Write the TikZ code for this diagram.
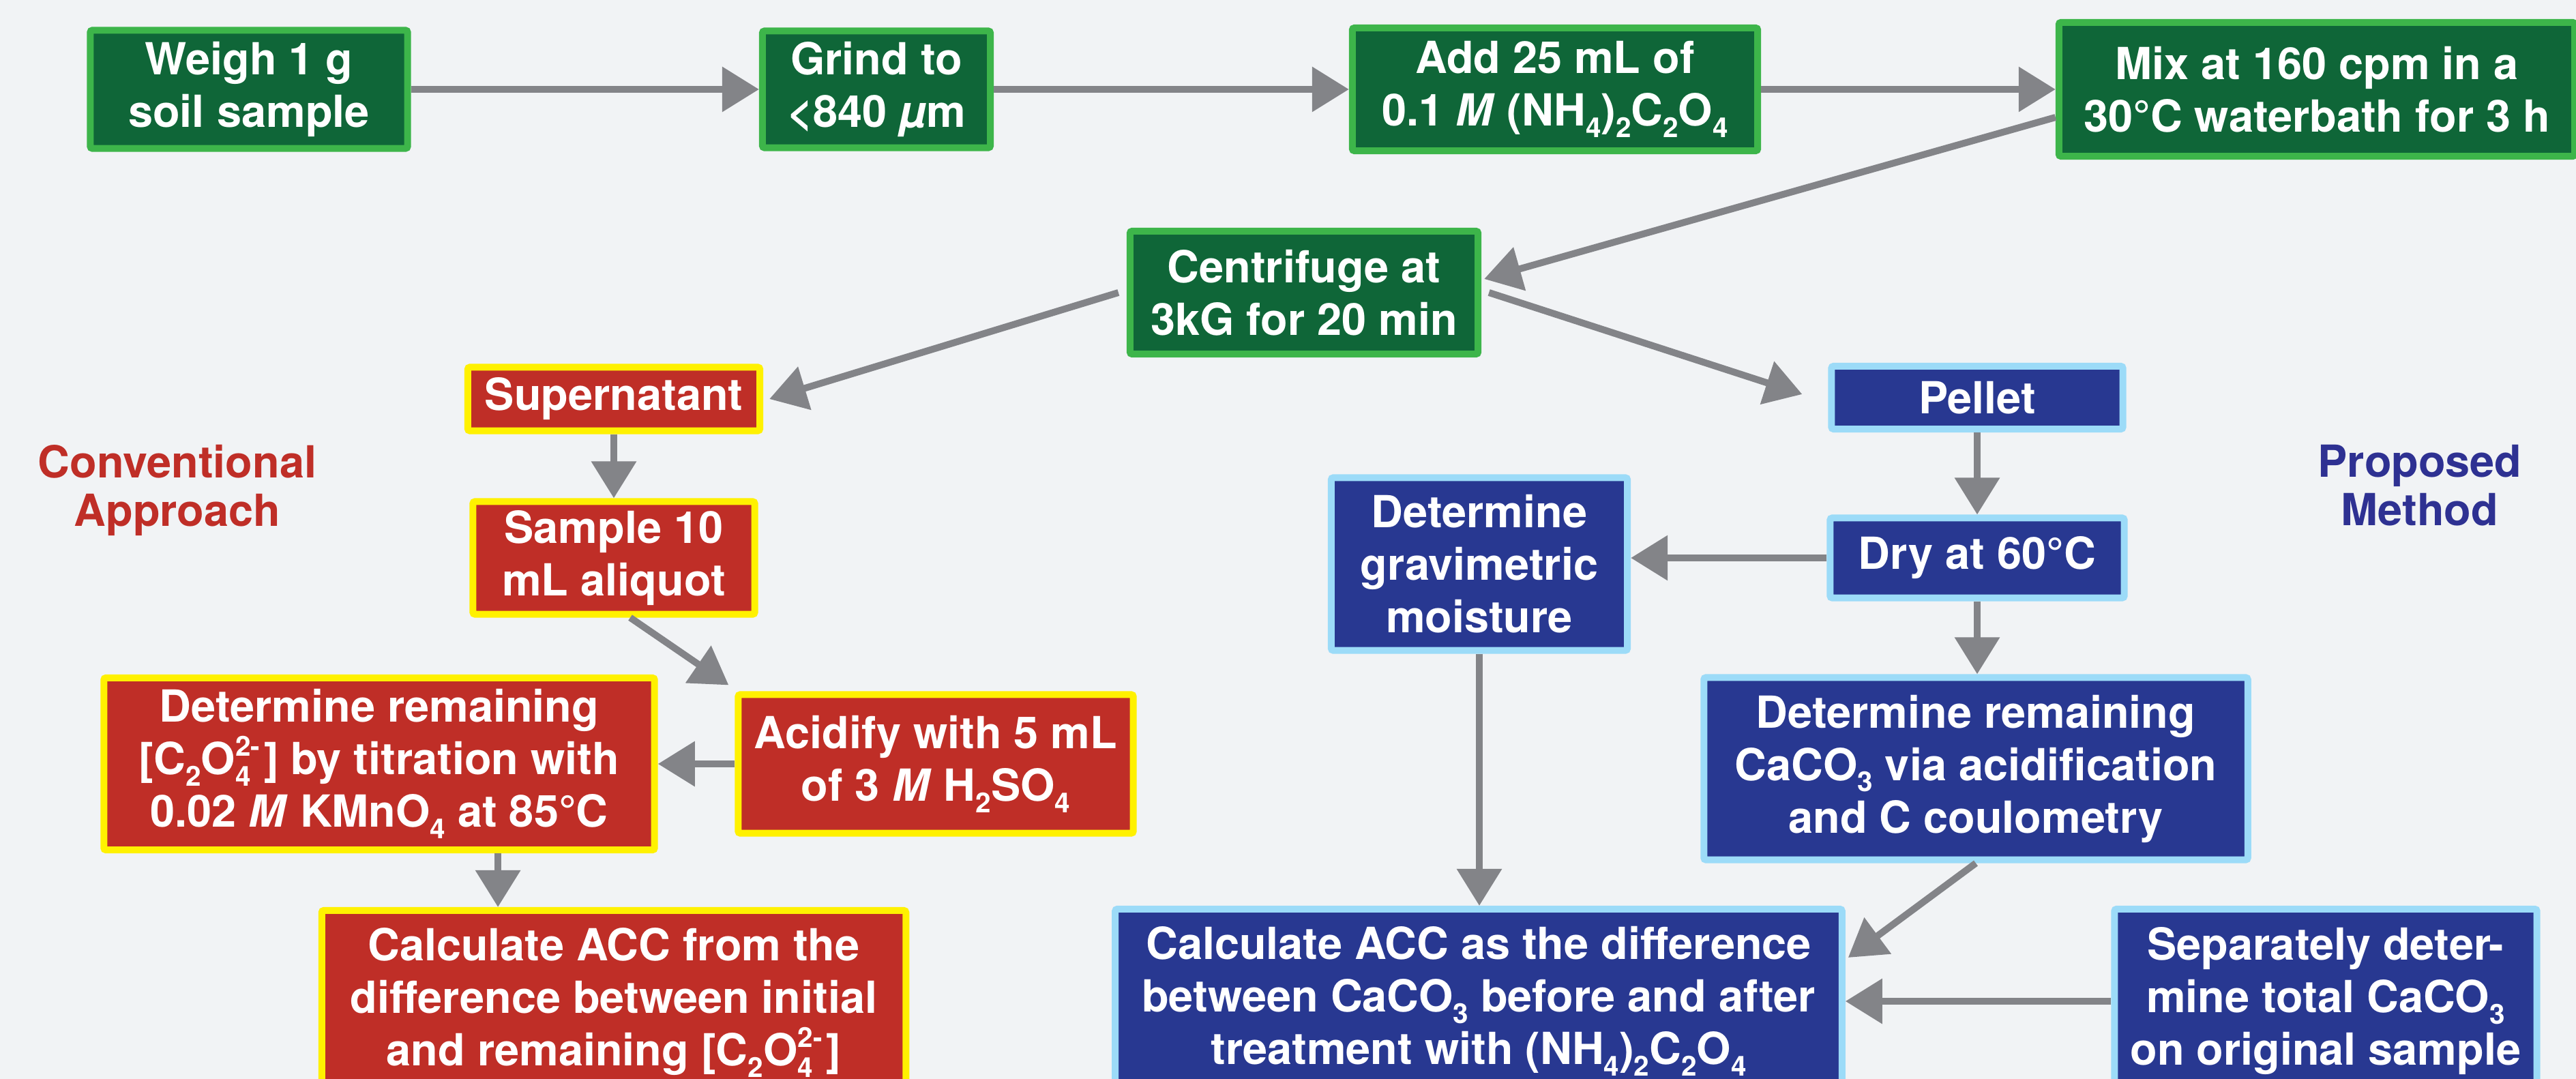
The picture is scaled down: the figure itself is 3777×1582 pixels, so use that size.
\documentclass[tikz,border=0pt]{standalone}
\usepackage{fontspec}
\setmainfont{TeX Gyre Heros}
\usetikzlibrary{arrows.meta,calc}
\definecolor{bg}{HTML}{F1F3F5}
\definecolor{arrgray}{HTML}{838488}
\definecolor{gborder}{HTML}{3DB54A}
\definecolor{gfill}{HTML}{0F6638}
\definecolor{rfill}{HTML}{BF2E27}
\definecolor{yborder}{HTML}{FFF100}
\definecolor{bfill}{HTML}{283891}
\definecolor{bborder}{HTML}{9CDBF8}
\definecolor{convred}{HTML}{BF2E27}
\definecolor{propblue}{HTML}{2E3192}
\newcommand{\boxfont}{\fontsize{18.43}{21.9}\selectfont\bfseries}
\newcommand{\lblfont}{\fontsize{18.43}{20.2}\selectfont\bfseries}
\newcommand{\sbs}[1]{\raisebox{-0.26em}{\fontsize{11.5}{11.5}\selectfont #1}}
\newcommand{\oxsup}{\rlap{\raisebox{0.42em}{\fontsize{11.5}{11.5}\selectfont 2-}}\sbs{4}\kern0.3em}
\tikzset{
  box/.style={line width=0.1cm, rounded corners=0.03cm, align=center, inner sep=0pt, font=\boxfont, text=white},
  gbox/.style={box, draw=gborder, fill=gfill},
  rbox/.style={box, draw=yborder, fill=rfill},
  bbox/.style={box, draw=bborder, fill=bfill},
  arr/.style={draw=arrgray, line width=0.1cm, -{Triangle[length=0.54cm,width=0.64cm]}},
}
\begin{document}
\begin{tikzpicture}[x=0.01cm, y=-0.01cm]
\path[use as bounding box, fill=bg] (0,0) rectangle (3777,1582);
% row 1
\node[gbox, minimum width=4.65cm, minimum height=1.73cm] (weigh) at (365,131) {Weigh 1 g\\soil sample};
\node[gbox, minimum width=3.34cm, minimum height=1.71cm] (grind) at (1285,131) {Grind to\\<840 \textit{µ}m};
\node[gbox, minimum width=5.94cm, minimum height=1.80cm] (add) at (2280,131) {Add 25 mL of\\0.1 \textit{M} (NH\sbs{4})\sbs{2}C\sbs{2}O\sbs{4}};
\node[gbox, minimum width=7.56cm, minimum height=1.96cm] (mix) at (3397,131) {Mix at 160 cpm in a\\30°C waterbath for 3 h};
\node[gbox, minimum width=5.10cm, minimum height=1.80cm] (cent) at (1912,429) {Centrifuge at\\3kG for 20 min};
% conventional
\node[rbox, minimum width=4.28cm, minimum height=0.93cm] (sup) at (900,585) {Supernatant};
\node[rbox, minimum width=4.13cm, minimum height=1.65cm] (samp) at (900,818) {Sample 10\\mL aliquot};
\node[rbox, minimum width=5.79cm, minimum height=2.03cm] (acid) at (1372,1120) {Acidify with 5 mL\\of 3 \textit{M} H\sbs{2}SO\sbs{4}};
\node[rbox, minimum width=8.07cm, minimum height=2.52cm] (detr) at (556,1120) {Determine remaining\\{[}C\sbs{2}O\oxsup] by titration with\\0.02 \textit{M} KMnO\sbs{4} at 85°C};
\node[rbox, minimum width=8.56cm, minimum height=2.70cm] (calcr) at (900,1470) {Calculate ACC from the\\difference between initial\\and remaining [C\sbs{2}O\oxsup]};
% proposed
\node[bbox, minimum width=4.27cm, minimum height=0.92cm] (pel) at (2899,583) {Pellet};
\node[bbox, minimum width=4.31cm, minimum height=1.17cm] (dry) at (2899,818) {Dry at 60°C};
\node[bbox, minimum width=4.34cm, minimum height=2.53cm] (grav) at (2169,827) {Determine\\gravimetric\\moisture};
\node[bbox, minimum width=7.97cm, minimum height=2.67cm] (detb) at (2897,1127) {Determine remaining\\CaCO\sbs{3} via acidification\\and C coulometry};
\node[bbox, minimum width=10.65cm, minimum height=2.70cm] (calcb) at (2168,1468) {Calculate ACC as the difference\\between CaCO\sbs{3} before and after\\treatment with (NH\sbs{4})\sbs{2}C\sbs{2}O\sbs{4}};
\node[bbox, minimum width=6.19cm, minimum height=2.70cm] (sep) at (3410,1468) {Separately deter-\\mine total CaCO\sbs{3}\\on original sample};
% labels
\node[align=center, inner sep=0pt, font=\lblfont, text=convred] (conv) at (260,719) {Conventional\\Approach};
\node[align=center, inner sep=0pt, font=\lblfont, text=propblue] (prop) at (3548,712) {Proposed\\Method};
% arrows
\draw[arr] (weigh) -- (grind);
\draw[arr] (grind) -- (add);
\draw[arr] (add) -- (mix);
\draw[arr] ([yshift=-0.41cm]mix.west) -- ([shift={(0.04cm,0.2cm)}]cent.east);
\draw[arr] ([xshift=-0.12cm]cent.west) -- ([xshift=0.09cm]sup.east);
\draw[arr] ([xshift=0.11cm]cent.east) -- ([xshift=-0.38cm,yshift=0.05cm]pel.west);
\draw[arr] (sup) -- (samp);
\draw[arr] ([xshift=0.24cm]samp.south) -- ([shift={(-0.09cm,0.09cm)}]acid.north west);
\draw[arr] (acid) -- (detr);
\draw[arr] ([xshift=1.74cm]detr.south) -- ([xshift=1.74cm]detr.south |- calcr.north);
\draw[arr] (pel) -- (dry);
\draw[arr] (dry.west) -- (dry.west -| grav.east);
\draw[arr] (dry.south) -- (dry.south |- detb.north);
\draw[arr] (grav.south) -- (grav.south |- calcb.north);
\draw[arr] (detb.south) -- ([shift={(0.04cm,0.64cm)}]calcb.east);
\draw[arr] (sep) -- (calcb);
\end{tikzpicture}
\end{document}
